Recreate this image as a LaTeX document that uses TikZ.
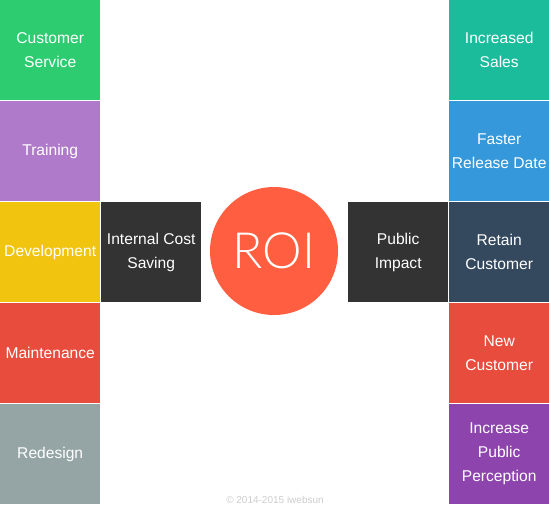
\documentclass[tikz,border=0pt]{standalone}
\usepackage{fontspec}
\setmainfont{Liberation Sans}
\newfontfamily\thinfont{Lato Light}
\definecolor{roigreen}{HTML}{2ECC71}
\definecolor{roililac}{HTML}{B07ACB}
\definecolor{roiyellow}{HTML}{F1C40F}
\definecolor{roired}{HTML}{E74C3C}
\definecolor{roigrey}{HTML}{95A5A6}
\definecolor{roiteal}{HTML}{1ABC9C}
\definecolor{roiblue}{HTML}{3498DB}
\definecolor{roinavy}{HTML}{34495E}
\definecolor{roipurple}{HTML}{8E44AD}
\definecolor{roidark}{HTML}{333333}
\definecolor{roiorange}{HTML}{FF5F40}
\tikzset{
  tile/.style={fill=#1, minimum width=100pt, minimum height=100pt, inner sep=0pt,
    anchor=north west, text=white, align=center, font=\fontsize{15.6}{24}\selectfont},
}
\begin{document}
\begin{tikzpicture}[x=1pt, y=-1pt]
    \useasboundingbox (0,0) rectangle (549,504);

    % -- left column --
    \node[tile=roigreen]  (service) at (0,0)   {Customer\\Service};
    \node[tile=roililac]  (training) at (0,101) {Training};
    \node[tile=roiyellow] (develop) at (0,202) {Development};
    \node[tile=roired]    (maint)   at (0,303) {Maintenance};
    \node[tile=roigrey]   (redesign) at (0,404) {Redesign};

    % -- right column --
    \node[tile=roiteal]   (sales)   at (449,0)   {Increased\\Sales};
    \node[tile=roiblue]   (release) at (449,101) {Faster\\Release Date};
    \node[tile=roinavy]   (retain)  at (449,202) {Retain\\Customer};
    \node[tile=roired]    (newcust) at (449,303) {New\\Customer};
    \node[tile=roipurple] (percep)  at (449,404) {Increase\\Public\\Perception};

    % -- centre --
    \node[tile=roidark] (internal) at (101,202) {Internal Cost\\Saving};
    \node[tile=roidark] (public)   at (348,202) {Public\\Impact};
    \node[circle, fill=roiorange, minimum size=128pt, inner sep=0pt, text=white,
          font=\thinfont\fontsize{50}{50}\selectfont] (roi) at (274,251) {ROI};

    % footer
    \node[text=black!20, font=\fontsize{10}{10}\selectfont] (copy) at (275,499.5) {© 2014-2015 iwebsun};
\end{tikzpicture}
\end{document}
